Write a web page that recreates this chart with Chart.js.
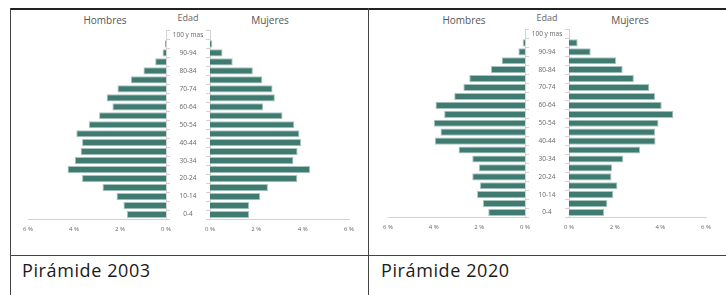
<!DOCTYPE html>
<html>
<head>
<meta charset="utf-8">
<script src="https://cdn.jsdelivr.net/npm/chart.js@4.4.0/dist/chart.umd.min.js"></script>
<style>
  body { margin: 0; width: 726px; height: 295px; background: #fff; position: relative; overflow: hidden; font-family: "Open Sans", sans-serif; }
  .line { position: absolute; background: #444; }
  .head { position: absolute; color: #555; font-size: 10px; line-height: 10px; transform: translateX(-50%); white-space: nowrap; }
  .edad { font-size: 9px; line-height: 9px; color: #666; }
  .caption { position: absolute; font-size: 18px; line-height: 18px; color: #1a1a1a; letter-spacing: 0.6px; white-space: nowrap; }
  canvas { position: absolute; }
</style>
</head>
<body>
<!-- table frame -->
<div class="line" style="left:10px;top:8px;width:716px;height:2px;background:#222"></div>
<div class="line" style="left:10px;top:8px;width:1px;height:287px"></div>
<div class="line" style="left:368px;top:8px;width:1px;height:287px"></div>
<div class="line" style="left:10px;top:255px;width:716px;height:1px"></div>

<div class="head" style="left:105px;top:15px">Hombres</div>
<div class="head edad" style="left:188px;top:13px">Edad</div>
<div class="head" style="left:270px;top:15px">Mujeres</div>
<div class="head" style="left:464px;top:15px">Hombres</div>
<div class="head edad" style="left:547px;top:13px">Edad</div>
<div class="head" style="left:630px;top:15px">Mujeres</div>

<canvas id="m2003" width="155" height="215" style="left:18px;top:20px"></canvas>
<canvas id="f2003" width="195" height="215" style="left:166px;top:20px"></canvas>
<canvas id="m2020" width="154" height="213" style="left:378px;top:20px"></canvas>
<canvas id="f2020" width="193" height="213" style="left:525px;top:20px"></canvas>

<div class="caption" style="left:22px;top:261px">Pirámide 2003</div>
<div class="caption" style="left:381px;top:261px">Pirámide 2020</div>

<script>
const ageGroups = ["100 y mas", "95-99", "90-94", "85-89", "80-84", "75-79", "70-74", "65-69", "60-64", "55-59",
  "50-54", "45-49", "40-44", "35-39", "30-34", "25-29", "20-24", "15-19", "10-14", "5-9", "0-4"];
const xTicks = [0, 2, 4, 6];

// % of population, top (100 y mas) to bottom (0-4)
const male2003 = [0, 0.05, 0.15, 0.47, 0.98, 1.53, 2.11, 2.58, 2.33, 2.91, 3.35, 3.9, 3.65, 3.71, 3.96, 4.28, 3.65, 2.76, 2.15, 1.85, 1.7];
const female2003 = [0, 0.1, 0.54, 0.98, 1.85, 2.26, 2.7, 2.8, 2.29, 3.13, 3.64, 3.86, 3.93, 3.78, 3.6, 4.32, 3.77, 2.5, 2.17, 1.69, 1.69];
const male2020 = [0, 0.1, 0.29, 1.02, 1.49, 2.44, 2.7, 3.1, 3.92, 3.54, 3.99, 3.7, 3.95, 2.91, 2.31, 2.02, 2.31, 1.97, 2.1, 1.84, 1.61];
const female2020 = [0, 0.38, 0.95, 2.06, 2.35, 2.84, 3.52, 3.77, 4.06, 4.57, 3.92, 3.77, 3.79, 3.11, 2.38, 1.89, 1.86, 2.12, 1.94, 1.68, 1.54];

const barColor = "#3f7b70";
const axisColor = "#d2d2d2";

Chart.defaults.font.family = "'Open Sans', sans-serif";
Chart.defaults.color = "#666";

// width of the longest age label, used to centre the age column
const meas = document.createElement("canvas").getContext("2d");
meas.font = "6.5px 'Open Sans'";
const widest = Math.max(...ageGroups.map(a => meas.measureText(a).width));

function sideChart(id, values, isMale, topPad) {
  return new Chart(document.getElementById(id), {
    type: "bar",
    data: {
      labels: ageGroups,
      datasets: [{
        data: values,
        backgroundColor: barColor,
        borderColor: "#a9c4be",
        borderWidth: 1,
        barPercentage: 0.8,
        categoryPercentage: 1
      }]
    },
    options: {
      indexAxis: "y",
      responsive: false,
      animation: false,
      layout: { padding: { top: topPad, left: isMale ? 10 : 0, right: isMale ? 0 : 8, bottom: 0 } },
      plugins: { legend: { display: false }, tooltip: { enabled: false } },
      scales: {
        x: {
          reverse: isMale,
          min: 0,
          max: 6,
          afterBuildTicks: s => { s.ticks = xTicks.map(v => ({ value: v })); },
          grid: { display: false, drawTicks: false },
          border: { color: axisColor },
          ticks: { font: { size: 6 }, padding: 7, maxRotation: 0, callback: v => v + " %" },
          afterFit: s => { s.height = 16; }
        },
        y: {
          position: isMale ? "right" : "left",
          grid: { drawOnChartArea: false, tickLength: 4, color: axisColor },
          border: { color: axisColor },
          ticks: isMale ? { display: false } : {
            autoSkip: false,
            crossAlign: "center",
            padding: 18 - widest / 2,
            font: { size: 6.5 },
            callback: (v, i) => i % 2 === 0 ? ageGroups[i] : ""
          },
          afterFit: s => { s.width = isMale ? 7 : 44; }
        }
      }
    }
  });
}

sideChart("m2003", male2003, true, 10.5);
sideChart("f2003", female2003, false, 10.5);
sideChart("m2020", male2020, true, 9.5);
sideChart("f2020", female2020, false, 9.5);
</script>
</body>
</html>
